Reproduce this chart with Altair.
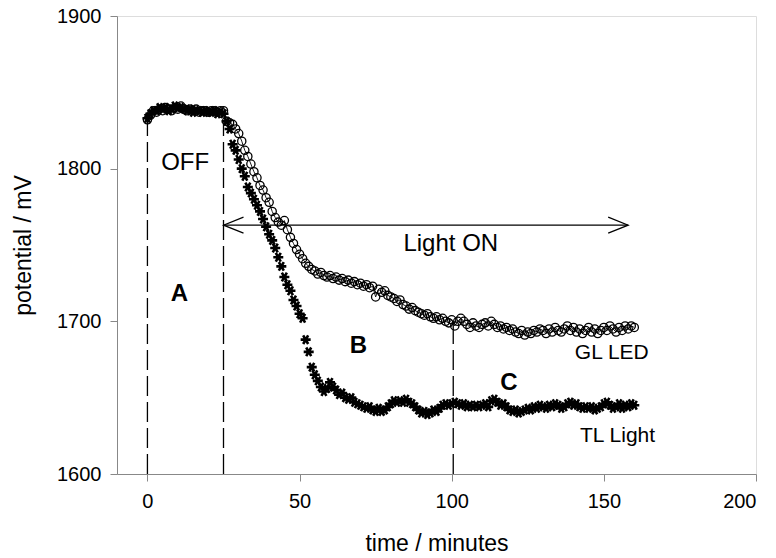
import altair as alt
import pandas as pd

# ---- data ----
time_min = list(range(0, 161))

gl_led = [
    1832, 1835, 1838, 1837, 1839, 1838, 1840, 1839, 1838, 1840,
    1839, 1841, 1839, 1838, 1839, 1838, 1839, 1837, 1838, 1838,
    1837, 1838, 1838, 1837, 1838, 1838, 1831, 1830, 1829, 1826,
    1823, 1818, 1812, 1808, 1803, 1798, 1794, 1789, 1786, 1781,
    1778, 1772, 1768, 1765, 1763, 1766, 1760, 1755, 1751, 1747,
    1744, 1741, 1738, 1736, 1734, 1733, 1731, 1732, 1730, 1729,
    1730, 1728, 1729, 1727, 1728, 1726, 1727, 1725, 1726, 1724,
    1725, 1723, 1724, 1722, 1723, 1716, 1721, 1719, 1720, 1717,
    1716, 1715, 1713, 1714, 1711, 1710, 1708, 1709, 1707, 1706,
    1705, 1704, 1705, 1703, 1702, 1703, 1701, 1702, 1700, 1699,
    1701, 1697, 1700, 1702, 1700, 1698, 1696, 1699, 1697, 1696,
    1698, 1699, 1697, 1700, 1698, 1696, 1697, 1695, 1696, 1694,
    1695, 1693, 1692, 1694, 1691, 1693, 1692, 1694, 1693, 1695,
    1694, 1692, 1695, 1693, 1696, 1694, 1693, 1695, 1697, 1694,
    1696, 1693, 1695, 1692, 1694, 1696, 1693, 1695, 1692, 1694,
    1696, 1694, 1697, 1695, 1693, 1696, 1694, 1697, 1695, 1697,
    1696,
]

tl_light = [
    1833, 1836, 1838, 1838, 1840, 1839, 1840, 1838, 1839, 1841,
    1840, 1840, 1839, 1838, 1839, 1837, 1838, 1838, 1837, 1838,
    1837, 1837, 1838, 1836, 1837, 1836, 1831, 1826, 1816, 1812,
    1806, 1800, 1795, 1788, 1784, 1780, 1776, 1772, 1767, 1762,
    1757, 1753, 1748, 1742, 1736, 1729, 1724, 1720, 1714, 1710,
    1705, 1702, 1688, 1680, 1670, 1665, 1661, 1657, 1654, 1656,
    1660, 1657, 1655, 1652, 1653, 1650, 1649, 1650, 1647, 1646,
    1645, 1644, 1643, 1644, 1642, 1641, 1643, 1641, 1642, 1644,
    1646, 1648, 1647, 1648, 1647, 1649, 1647, 1646, 1644, 1642,
    1640, 1641, 1639, 1640, 1642, 1641, 1643, 1645, 1646, 1645,
    1646, 1647, 1646, 1645, 1646, 1644, 1645, 1644, 1645, 1644,
    1645, 1646, 1644, 1648, 1649, 1647, 1645, 1646, 1644, 1642,
    1641, 1642, 1640, 1641, 1642, 1643, 1642, 1644, 1643, 1645,
    1644, 1643, 1645, 1644, 1646, 1645, 1643, 1644, 1646, 1647,
    1645, 1646, 1644, 1643, 1644, 1643, 1644, 1642, 1643, 1644,
    1646, 1647, 1645, 1643, 1644, 1646, 1643, 1645, 1644, 1646,
    1645,
]

x_ticks = [0, 50, 100, 150, 200]
y_ticks = [1600, 1700, 1800, 1900]

# dashed phase boundaries
dash_x = [0, 25, 100.5]
dash_top = [1834, 1830, 1699]
dash_bottom = [1600, 1600, 1600]

# double arrow "Light ON"
arrow_x1 = [25]
arrow_x2 = [158]
arrow_y = [1763]

# annotations
ann_text = ["OFF", "Light ON", "GL LED", "TL Light"]
ann_x = [12.4, 99.7, 152.6, 154.5]
ann_y = [1803.5, 1750.7, 1679, 1625]
ann_size = [24, 24, 21, 21]

bold_text = ["A", "B", "C"]
bold_x = [10.5, 69.3, 118.8]
bold_y = [1718, 1684, 1659.4]

FONT = "Liberation Sans"

series = pd.DataFrame({"t": time_min, "gl": gl_led, "tl": tl_light})
dashes = pd.DataFrame({"x": dash_x, "y": dash_bottom, "y2": dash_top})
arrow = pd.DataFrame({"x": arrow_x1, "x2": arrow_x2, "y": arrow_y})
ann = pd.DataFrame({"text": ann_text, "x": ann_x, "y": ann_y, "size": ann_size})
bold = pd.DataFrame({"text": bold_text, "x": bold_x, "y": bold_y})

xs = alt.Scale(domain=[-10, 200], nice=False, zero=False)
ys = alt.Scale(domain=[1600, 1900], nice=False, zero=False)

x_axis = alt.Axis(
    values=x_ticks, format="d", title="time / minutes", grid=False, tickSize=7,
    labelPadding=10, labelFontSize=20, titleFontSize=23,
    titleFontWeight="normal", titleX=319.5, titleY=69,
    titleBaseline="middle", titleAlign="center",
)
y_axis = alt.Axis(
    values=y_ticks, format="d", title="potential / mV", grid=False, tickSize=7,
    labelPadding=9, labelFontSize=20, titleFontSize=23,
    titleFontWeight="normal", titleX=-94, titleY=229, titleAngle=-90,
    titleBaseline="middle", titleAlign="center",
)

base = alt.Chart(series)

gl_line = base.mark_line(color="black", strokeWidth=0.9).encode(
    x=alt.X("t:Q", scale=xs, axis=x_axis),
    y=alt.Y("gl:Q", scale=ys, axis=y_axis),
)
gl_pts = base.mark_point(
    shape="circle", filled=False, color="black", strokeWidth=1.3, size=68, opacity=1
).encode(x=alt.X("t:Q", scale=xs), y=alt.Y("gl:Q", scale=ys))

ASTER = "M-1,0L1,0M-0.5,-0.87L0.5,0.87M-0.5,0.87L0.5,-0.87"
tl_pts = base.mark_point(
    shape=ASTER, filled=False, color="black", strokeWidth=2.6, size=100, opacity=1
).encode(x=alt.X("t:Q", scale=xs), y=alt.Y("tl:Q", scale=ys))

dash_layer = alt.Chart(dashes).mark_rule(
    color="black", strokeWidth=1.3, strokeDash=[20, 6]
).encode(x=alt.X("x:Q", scale=xs), y=alt.Y("y:Q", scale=ys), y2="y2:Q")

arrow_line = alt.Chart(arrow).mark_rule(color="black", strokeWidth=1.2).encode(
    x=alt.X("x:Q", scale=xs), x2="x2:Q", y=alt.Y("y:Q", scale=ys)
)
head_left = alt.Chart(arrow).mark_point(
    shape="M2,-0.8L0,0L2,0.8", filled=False, color="black", strokeWidth=1.2,
    size=400, opacity=1,
).encode(x=alt.X("x:Q", scale=xs), y=alt.Y("y:Q", scale=ys))
head_right = alt.Chart(arrow).mark_point(
    shape="M-2,-0.8L0,0L-2,0.8", filled=False, color="black", strokeWidth=1.2,
    size=400, opacity=1,
).encode(x=alt.X("x2:Q", scale=xs), y=alt.Y("y:Q", scale=ys))

ann_layer = alt.Chart(ann).mark_text(
    font=FONT, color="black", align="center", baseline="middle"
).encode(
    x=alt.X("x:Q", scale=xs), y=alt.Y("y:Q", scale=ys),
    text="text:N", size=alt.Size("size:Q", scale=None),
)
bold_layer = alt.Chart(bold).mark_text(
    font=FONT, color="black", align="center", baseline="middle",
    fontSize=24, fontWeight="bold",
).encode(x=alt.X("x:Q", scale=xs), y=alt.Y("y:Q", scale=ys), text="text:N")

chart = alt.layer(
    dash_layer, arrow_line, head_left, head_right,
    gl_line, gl_pts, tl_pts, ann_layer, bold_layer,
).properties(
    width=639, height=458,
    autosize=alt.AutoSizeParams(type="none"),
    padding={"left": 117, "top": 16, "right": 20, "bottom": 84},
).configure_view(
    stroke="black", strokeWidth=1.5
).configure_axis(
    labelFont=FONT, titleFont=FONT, labelColor="black", titleColor="black",
    domainColor="black", domainWidth=1.5, tickColor="black", tickWidth=1.5,
).configure(background="white")

chart.save("out.html", embed_options={"renderer": "svg", "actions": False})
